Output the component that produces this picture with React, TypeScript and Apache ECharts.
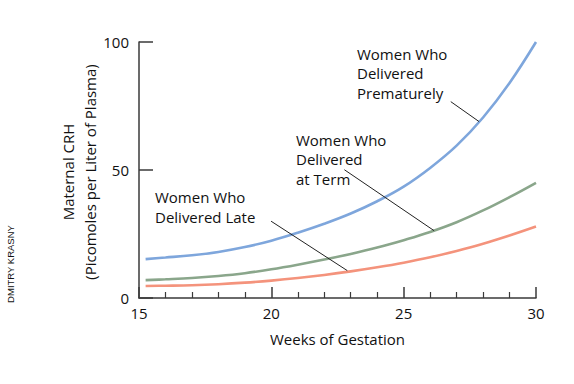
import React, { useEffect, useRef } from "react";
import * as echarts from "echarts";

const weeks = [15.25, 16, 17, 18, 19, 20, 21, 22, 23, 24, 25, 26, 27, 28, 29, 30];
const prematureValues = [15.2, 15.8, 16.7, 18.0, 19.9, 22.4, 25.5, 29.0, 33.0, 37.8, 43.5, 50.8, 59.5, 70.5, 84.0, 100];
const termValues = [7.0, 7.3, 7.8, 8.6, 9.7, 11.2, 13.0, 15.0, 17.2, 19.7, 22.6, 25.8, 29.6, 34.2, 39.4, 45.0];
const lateValues = [4.7, 4.8, 5.0, 5.4, 6.0, 6.8, 7.8, 9.0, 10.4, 12.0, 13.8, 15.9, 18.4, 21.2, 24.4, 27.9];

const xTicks = [15, 20, 25, 30];
const yTicks = [0, 50, 100];

const seriesNames = ["Women Who Delivered Prematurely", "Women Who Delivered at Term", "Women Who Delivered Late"];
const seriesColors = ["#7ea6dc", "#8aa68b", "#f4937c"];

// annotation labels: text, leader start (data), leader end on curve (data)
const annotationTexts = ["Women Who\nDelivered\nPrematurely", "Women Who\nDelivered\nat Term", "Women Who\nDelivered Late"];
const leaderStarts = [[26.78, 76.7], [22.76, 50.1], [19.99, 30.0]];
const leaderEnds = [[27.85, 68.9], [26.15, 26.3], [22.87, 10.7]];
const annotationTextPos = [[357, 44], [296, 130], [155, 187.5]];

const FONT = "'Open Sans', 'Noto Sans', sans-serif";
const AXIS_COLOR = "#3a3a3a";

export default function App() {
  const ref = useRef<HTMLDivElement>(null);
  useEffect(() => {
    if (!ref.current) return;
    const chart = echarts.init(ref.current, null, { renderer: "svg" });
    const mk = (vals: number[]) => weeks.map((w, i) => [w, vals[i]]);
    const allSeries = [prematureValues, termValues, lateValues];
    chart.setOption({
      animation: false,
      grid: { left: 139, right: 38, top: 42, bottom: 86, containLabel: false },
      xAxis: {
        type: "value",
        min: xTicks[0],
        max: xTicks[xTicks.length - 1],
        interval: 5,
        name: "Weeks of Gestation",
        nameLocation: "middle",
        nameGap: 33,
        nameTextStyle: { fontFamily: FONT, fontSize: 15, color: "#111" },
        axisLine: { show: true, lineStyle: { color: AXIS_COLOR, width: 1.5 } },
        axisTick: { show: true, inside: true, length: 11, lineStyle: { color: AXIS_COLOR, width: 1.5 } },
        minorTick: { show: true, splitNumber: 5, length: 6, lineStyle: { color: AXIS_COLOR, width: 1.2 } },
        axisLabel: { fontFamily: FONT, fontSize: 15, color: "#111", margin: 7 },
        splitLine: { show: false },
        minorSplitLine: { show: false },
      },
      yAxis: {
        type: "value",
        min: yTicks[0],
        max: yTicks[yTicks.length - 1],
        interval: 50,
        axisLine: { show: true, lineStyle: { color: AXIS_COLOR, width: 1.5 } },
        axisTick: { show: true, inside: true, length: 14, lineStyle: { color: AXIS_COLOR, width: 1.5 } },
        axisLabel: { fontFamily: FONT, fontSize: 15, color: "#111", margin: 10 },
        splitLine: { show: false },
      },
      series: allSeries.map((vals, i) => ({
        type: "line",
        name: seriesNames[i],
        data: mk(vals),
        smooth: 0.4,
        showSymbol: false,
        symbol: "none",
        lineStyle: { color: seriesColors[i], width: 2.6 },
        z: 3 - i,
      })),
    });

    const graphics: any[] = [];
    annotationTexts.forEach((t, i) => {
      const s = chart.convertToPixel({ gridIndex: 0 }, leaderStarts[i]) as number[];
      const e = chart.convertToPixel({ gridIndex: 0 }, leaderEnds[i]) as number[];
      graphics.push({
        type: "line",
        shape: { x1: s[0], y1: s[1], x2: e[0], y2: e[1] },
        style: { stroke: "#222", lineWidth: 1 },
        z: 10,
      });
      graphics.push({
        type: "text",
        x: annotationTextPos[i][0],
        y: annotationTextPos[i][1],
        style: {
          text: t,
          fontFamily: FONT,
          fontSize: 15,
          lineHeight: 19.5,
          fill: "#111",
          align: "left",
          verticalAlign: "top",
        },
        z: 10,
      });
    });
    graphics.push({
      type: "text",
      x: 68,
      y: 172,
      rotation: Math.PI / 2,
      style: { text: "Maternal CRH", fontFamily: FONT, fontSize: 15, fill: "#111", align: "center", verticalAlign: "middle" },
    });
    graphics.push({
      type: "text",
      x: 90,
      y: 172,
      rotation: Math.PI / 2,
      style: { text: "(Picomoles per Liter of Plasma)", fontFamily: FONT, fontSize: 15, fill: "#111", align: "center", verticalAlign: "middle" },
    });
    graphics.push({
      type: "text",
      x: 10,
      y: 264,
      rotation: Math.PI / 2,
      style: { text: "DMITRY KRASNY", fontFamily: "'Liberation Sans Narrow', 'Liberation Sans', sans-serif", fontSize: 9.5, fill: "#111", align: "center", verticalAlign: "middle" },
    });
    chart.setOption({ graphic: graphics });

    return () => chart.dispose();
  }, []);
  return <div ref={ref} style={{ width: 574, height: 384, position: "absolute", left: 0, top: 0 }} />;
}
